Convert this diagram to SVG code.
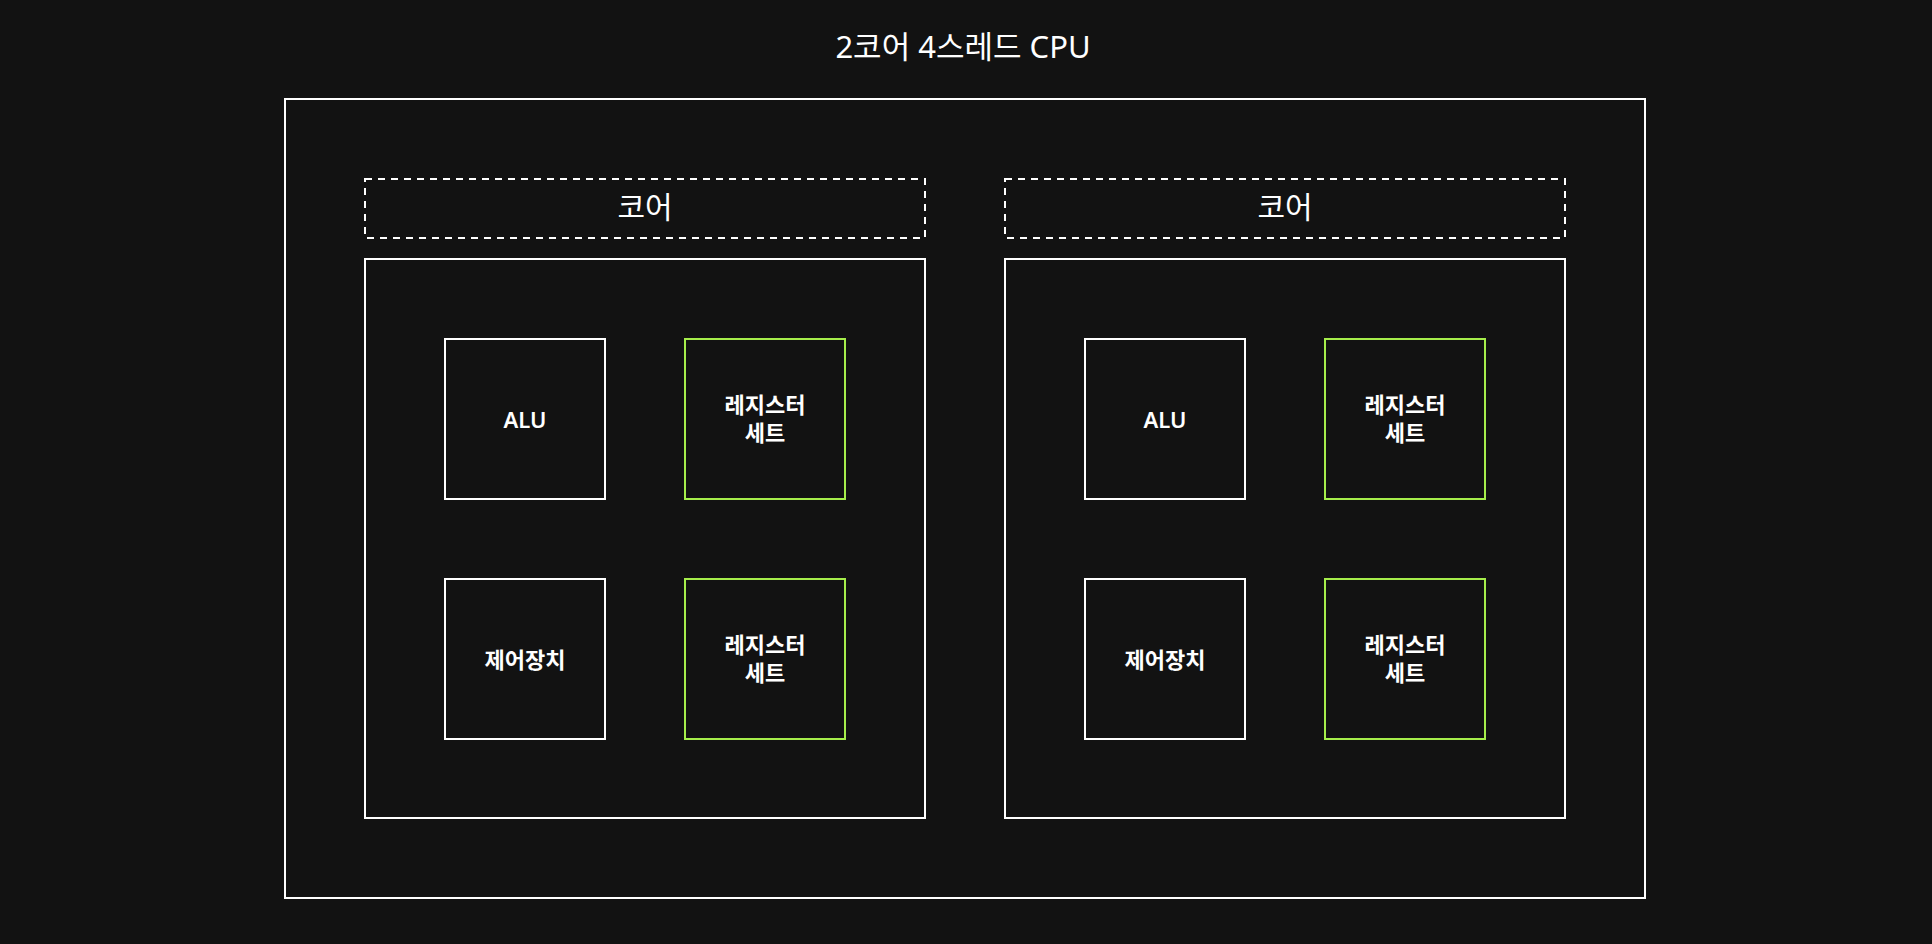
<svg xmlns="http://www.w3.org/2000/svg" width="1932" height="944" viewBox="0 0 1932 944">
<style>
.t{font-family:"Noto Sans","Noto Sans CJK KR",sans-serif;fill:#ffffff;text-anchor:middle;dominant-baseline:central}
.title{font-size:31px}
.hdr{font-size:30px}
.lbl{font-size:22px;font-weight:600}
.w{fill:#121212;stroke:#ffffff;stroke-width:2}
.g{fill:#121212;stroke:#a6ee4b;stroke-width:2}
.d{fill:none;stroke:#ffffff;stroke-width:2;stroke-dasharray:7 6}
</style>
<rect x="0" y="0" width="1932" height="944" fill="#121212"/>
<g id="title"><text class="t title" x="963" y="46">2코어 4스레드 CPU</text></g>
<g id="cpu"><rect class="w" x="285" y="99" width="1360" height="799"/></g>
<g id="core1-label"><rect class="d" x="365" y="179" width="560" height="59"/><text class="t hdr" x="645" y="206">코어</text></g>
<g id="core1"><rect class="w" x="365" y="259" width="560" height="559"/></g>
<g id="alu1"><rect class="w" x="445" y="339" width="160" height="160"/><text class="t lbl" x="525" y="419">ALU</text></g>
<g id="reg1a"><rect class="g" x="685" y="339" width="160" height="160"/><text class="t lbl" x="765" y="404">레지스터</text><text class="t lbl" x="765" y="432">세트</text></g>
<g id="cu1"><rect class="w" x="445" y="579" width="160" height="160"/><text class="t lbl" x="525" y="659">제어장치</text></g>
<g id="reg1b"><rect class="g" x="685" y="579" width="160" height="160"/><text class="t lbl" x="765" y="644">레지스터</text><text class="t lbl" x="765" y="672">세트</text></g>
<g id="core2-label"><rect class="d" x="1005" y="179" width="560" height="59"/><text class="t hdr" x="1285" y="206">코어</text></g>
<g id="core2"><rect class="w" x="1005" y="259" width="560" height="559"/></g>
<g id="alu2"><rect class="w" x="1085" y="339" width="160" height="160"/><text class="t lbl" x="1165" y="419">ALU</text></g>
<g id="reg2a"><rect class="g" x="1325" y="339" width="160" height="160"/><text class="t lbl" x="1405" y="404">레지스터</text><text class="t lbl" x="1405" y="432">세트</text></g>
<g id="cu2"><rect class="w" x="1085" y="579" width="160" height="160"/><text class="t lbl" x="1165" y="659">제어장치</text></g>
<g id="reg2b"><rect class="g" x="1325" y="579" width="160" height="160"/><text class="t lbl" x="1405" y="644">레지스터</text><text class="t lbl" x="1405" y="672">세트</text></g>
<g id="connectors"></g>
</svg>
